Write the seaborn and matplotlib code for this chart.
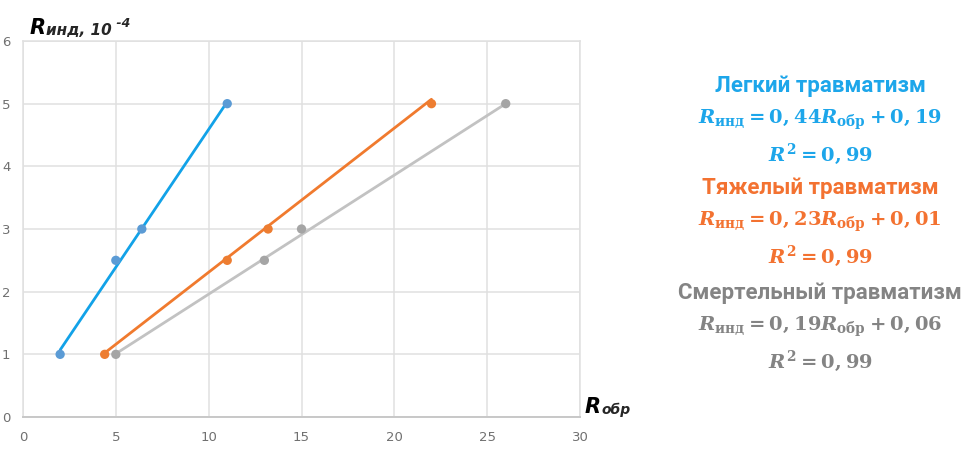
import numpy as np
import pandas as pd
import matplotlib
matplotlib.use("Agg")
import matplotlib.pyplot as plt
import seaborn as sns

# Observed points for each injury category
light_x = [2, 5, 6.4, 11]
light_y = [1, 2.5, 3, 5]
heavy_x = [4.4, 11, 13.2, 22]
heavy_y = [1, 2.5, 3, 5]
fatal_x = [5, 13, 15, 26]
fatal_y = [1, 2.5, 3, 5]

# Linear trend coefficients (slope, intercept) and R^2
light_fit = (0.44, 0.19)
heavy_fit = (0.23, 0.01)
fatal_fit = (0.19, 0.06)
r2_values = [0.99, 0.99, 0.99]

names = ["Легкий травматизм", "Тяжелый травматизм", "Смертельный травматизм"]
x_ticks = [0, 5, 10, 15, 20, 25, 30]
y_ticks = [0, 1, 2, 3, 4, 5, 6]

line_colors = ["#12A2E8", "#F07A2E", "#C2C2C2"]
marker_colors = ["#5B9BD5", "#ED7D31", "#A5A5A5"]
text_colors = ["#1DA6EA", "#F37231", "#848484"]

sns.set_style("white")
plt.rcParams["font.family"] = ["DejaVu Sans"]
plt.rcParams["mathtext.fontset"] = "custom"
plt.rcParams["mathtext.rm"] = "DejaVu Serif:bold"
plt.rcParams["mathtext.it"] = "DejaVu Serif:italic:bold"
plt.rcParams["mathtext.bf"] = "DejaVu Serif:bold"

fig = plt.figure(figsize=(9.78, 4.5), dpi=100)
ax = fig.add_axes([23 / 978, 1 - 417 / 450, (580 - 23) / 978, (417 - 41) / 450])

points = pd.concat([
    pd.DataFrame({"x": xs, "y": ys, "group": n})
    for xs, ys, n in [(light_x, light_y, names[0]),
                      (heavy_x, heavy_y, names[1]),
                      (fatal_x, fatal_y, names[2])]
])

trend_rows = []
for xs, (k, b), n in [(light_x, light_fit, names[0]),
                      (heavy_x, heavy_fit, names[1]),
                      (fatal_x, fatal_fit, names[2])]:
    ends = np.array([min(xs), max(xs)])
    trend_rows.append(pd.DataFrame({"x": ends, "y": k * ends + b, "group": n}))
trends = pd.concat(trend_rows)

sns.lineplot(data=trends, x="x", y="y", hue="group", palette=line_colors,
             hue_order=names, linewidth=2.0, legend=False, ax=ax, zorder=3)
sns.scatterplot(data=points, x="x", y="y", hue="group", palette=marker_colors,
                hue_order=names, s=45, edgecolor="none", legend=False, ax=ax,
                zorder=4)

ax.set_xlim(0, 30)
ax.set_ylim(0, 6)
ax.set_xticks(x_ticks)
ax.set_yticks(y_ticks)
ax.set_xticklabels([str(t) for t in x_ticks])
ax.set_yticklabels([str(t) for t in y_ticks])
ax.grid(True, color="#E0E0E0", linewidth=1.1)
ax.set_axisbelow(True)
for side in ["top", "right", "left"]:
    ax.spines[side].set_color("#E0E0E0")
    ax.spines[side].set_linewidth(1.1)
ax.spines["bottom"].set_color("#C8C8C8")
ax.spines["bottom"].set_linewidth(1.4)
ax.tick_params(axis="both", length=0, labelsize=9.5, labelcolor="#707070")
ax.tick_params(axis="x", pad=10)
ax.tick_params(axis="y", pad=9)
ax.set_xlabel("")
ax.set_ylabel("")

# Axis titles
t1 = fig.text(30 / 978, 1 - 34 / 450, "R", fontsize=15, fontweight="bold",
              fontstyle="italic", color="black", va="baseline")
t2 = ax.annotate("инд, 10", xy=(1, 0), xycoords=t1, fontsize=11,
                 fontweight="bold", fontstyle="italic", va="bottom",
                 ha="left", annotation_clip=False)
ax.annotate(" -4", xy=(1, 0.55), xycoords=t2, fontsize=9, fontweight="bold",
            fontstyle="italic", va="bottom", ha="left", annotation_clip=False)

t3 = fig.text(585 / 978, 1 - 413 / 450, "R", fontsize=15, fontweight="bold",
              fontstyle="italic", color="black", va="baseline")
ax.annotate("обр", xy=(1, 0), xycoords=t3, fontsize=10, fontweight="bold",
            fontstyle="italic", va="bottom", ha="left", annotation_clip=False)

# Regression annotations on the right
cx = 820 / 978
fits = [light_fit, heavy_fit, fatal_fit]
tops = [86, 188, 293]
for name, (k, b), r2, col, top in zip(names, fits, r2_values, text_colors, tops):
    ks = f"{k:.2f}".replace(".", ",")
    bs = f"{b:.2f}".replace(".", ",")
    rs = f"{r2:.2f}".replace(".", ",")
    fig.text(cx, 1 - top / 450, name, fontsize=16, fontweight="bold",
             family="Roboto", color=col, ha="center", va="center")
    fig.text(cx, 1 - (top + 34) / 450,
             rf"$R_{{\mathrm{{инд}}}} = \mathrm{{{ks}}}R_{{\mathrm{{обр}}}} + \mathrm{{{bs}}}$",
             fontsize=14, color=col, ha="center", va="center")
    fig.text(cx, 1 - (top + 68) / 450,
             rf"$R^{{\mathrm{{2}}}} = \mathrm{{{rs}}}$",
             fontsize=14, color=col, ha="center", va="center")

fig.savefig("out.png", dpi=100, facecolor="white")
